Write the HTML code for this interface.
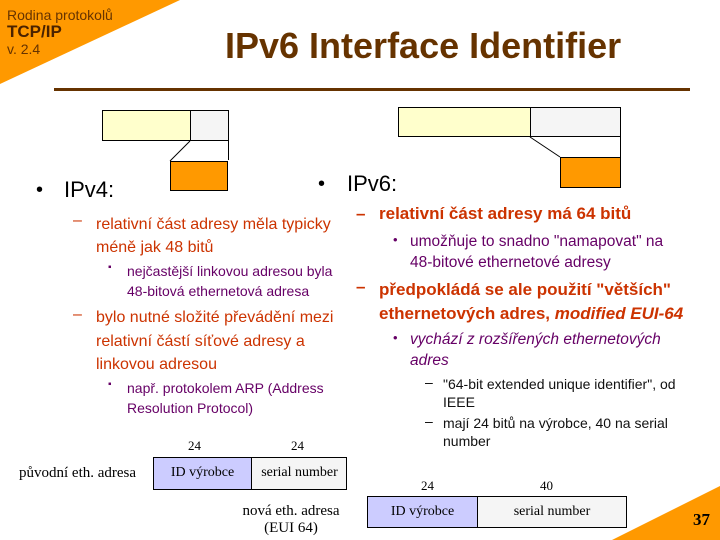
<!DOCTYPE html>
<html><head><meta charset="utf-8"><style>
body{margin:0;width:720px;height:540px;position:relative;overflow:hidden;background:#fff;font-family:"Liberation Sans",sans-serif}
.a{position:absolute;white-space:nowrap;line-height:1}
.r{color:#CC3300}.p{color:#660066}.s{font-family:"Liberation Serif",serif}
</style></head><body>
<svg width="720" height="540" style="position:absolute;left:0;top:0">
<polygon points="0,0 180,0 0,84" fill="#FF9900"/>
<polygon points="720,486 720,540 612,540" fill="#FF9900"/>
<rect x="54" y="88" width="636" height="3" fill="#663300"/>
<g stroke="#000" stroke-width="1">
<rect x="102.5" y="110.5" width="88" height="30" fill="#FFFFCC"/>
<rect x="190.5" y="110.5" width="38" height="30" fill="#F5F5F5"/>
<line x1="190" y1="141" x2="170" y2="161"/><line x1="228.5" y1="140" x2="228.5" y2="160"/>
<rect x="170.5" y="161.5" width="57" height="29" fill="#FF9900"/>
<rect x="398.5" y="107.5" width="132" height="29" fill="#FFFFCC"/>
<rect x="530.5" y="107.5" width="90" height="29" fill="#F5F5F5"/>
<line x1="530" y1="137" x2="560" y2="157"/><line x1="620.5" y1="136" x2="620.5" y2="157"/>
<rect x="560.5" y="157.5" width="60" height="30" fill="#FF9900"/>
<rect x="153.5" y="457.5" width="98" height="32" fill="#CCCCFF"/>
<rect x="251.5" y="457.5" width="95" height="32" fill="#F5F5F5"/>
<rect x="367.5" y="496.5" width="110" height="31" fill="#CCCCFF"/>
<rect x="477.5" y="496.5" width="149" height="31" fill="#F5F5F5"/>
</g></svg>
<div class="a" style="left:7px;top:8px;font-size:14px;color:#663300">Rodina protokolů</div>
<div class="a" style="left:7px;top:23px;font-size:17px;font-weight:bold;color:#4a2200">TCP/IP</div>
<div class="a" style="left:7px;top:42px;font-size:14px;color:#663300">v. 2.4</div>
<div class="a" style="left:225px;top:28px;font-size:36px;font-weight:bold;color:#663300">IPv6 Interface Identifier</div>

<div class="a" style="left:36px;top:180px;font-size:20px">•</div>
<div class="a" style="left:64px;top:179px;font-size:22px">IPv4:</div>
<div class="a r" style="left:73px;top:213px;font-size:16px">–</div>
<div class="a r" style="left:96px;top:213px;font-size:16px;line-height:23px">relativní část adresy měla typicky<br>méně jak 48 bitů</div>
<div class="a p" style="left:108px;top:263px;font-size:10px">▪</div>
<div class="a p" style="left:127px;top:261px;font-size:14px;line-height:20px">nejčastější linkovou adresou byla<br>48-bitová ethernetová adresa</div>
<div class="a r" style="left:73px;top:307px;font-size:16px">–</div>
<div class="a r" style="left:96px;top:306px;font-size:16px;line-height:23.5px">bylo nutné složité převádění mezi<br>relativní částí síťové adresy a<br>linkovou adresou</div>
<div class="a p" style="left:108px;top:380px;font-size:10px">▪</div>
<div class="a p" style="left:127px;top:378px;font-size:14px;line-height:20px">např. protokolem ARP (Address<br>Resolution Protocol)</div>

<div class="a" style="left:318px;top:174px;font-size:20px">•</div>
<div class="a" style="left:347px;top:173px;font-size:22px">IPv6:</div>
<div class="a r" style="left:356px;top:205px;font-size:17px;font-weight:bold">–</div>
<div class="a r" style="left:379px;top:205px;font-size:17px;font-weight:bold">relativní část adresy má 64 bitů</div>
<div class="a p" style="left:393px;top:233px;font-size:13px">•</div>
<div class="a p" style="left:410px;top:231px;font-size:15.5px;line-height:21px">umožňuje to snadno "namapovat" na<br>48-bitové ethernetové adresy</div>
<div class="a r" style="left:356px;top:278px;font-size:17px;font-weight:bold">–</div>
<div class="a r" style="left:379px;top:278px;font-size:17px;font-weight:bold;line-height:24px">předpokládá se ale použití "větších"<br>ethernetových adres, <i>modified EUI-64</i></div>
<div class="a p" style="left:393px;top:331px;font-size:13px">•</div>
<div class="a p" style="left:410px;top:329px;font-size:15.5px;line-height:21px;font-style:italic">vychází z rozšířených ethernetových<br>adres</div>
<div class="a" style="left:425px;top:375px;font-size:14px">–</div>
<div class="a" style="left:443px;top:375px;font-size:14px;line-height:18px;color:#111">"64-bit extended unique identifier", od<br>IEEE</div>
<div class="a" style="left:425px;top:414px;font-size:14px">–</div>
<div class="a" style="left:443px;top:414px;font-size:14px;line-height:18px;color:#111">mají 24 bitů na výrobce, 40 na serial<br>number</div>

<div class="a s" style="left:188px;top:439px;font-size:13px">24</div>
<div class="a s" style="left:291px;top:439px;font-size:13px">24</div>
<div class="a s" style="left:19px;top:466px;font-size:15px">původní eth. adresa</div>
<div class="a s" style="left:153px;top:466px;width:99px;text-align:center;font-size:14px">ID výrobce</div>
<div class="a s" style="left:252px;top:466px;width:95px;text-align:center;font-size:14px">serial number</div>
<div class="a s" style="left:421px;top:479px;font-size:13px">24</div>
<div class="a s" style="left:540px;top:479px;font-size:13px">40</div>
<div class="a s" style="left:230px;top:503px;width:122px;text-align:center;font-size:15px;line-height:17px">nová eth. adresa<br>(EUI 64)</div>
<div class="a s" style="left:367px;top:505px;width:111px;text-align:center;font-size:14px">ID výrobce</div>
<div class="a s" style="left:477px;top:505px;width:150px;text-align:center;font-size:14px">serial number</div>
<div class="a s" style="left:693px;top:511px;font-size:17px;font-weight:bold">37</div>
</body></html>
